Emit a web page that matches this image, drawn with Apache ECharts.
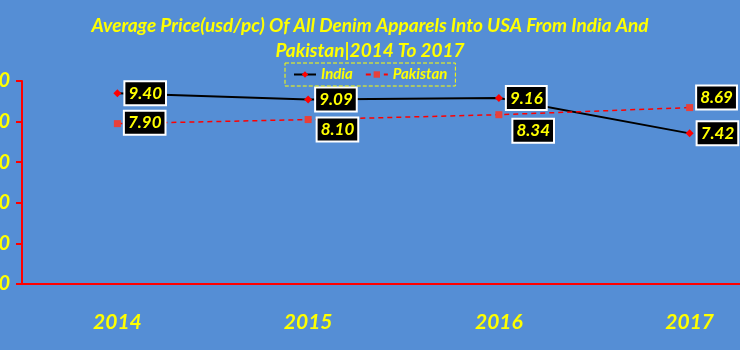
<!DOCTYPE html>
<html><head><meta charset="utf-8">
<script src="https://cdn.jsdelivr.net/npm/echarts@6/dist/echarts.min.js"></script>
<style>html,body{margin:0;padding:0;background:#558ED5;}#c{width:740px;height:350px;}</style>
</head><body><div id="c"></div>
<script>
const categories = ['2014', '2015', '2016', '2017'];
const indiaValues = [9.40, 9.09, 9.16, 7.42];
const pakistanValues = [7.90, 8.10, 8.34, 8.69];
const yTicks = [0, 2, 4, 6, 8, 10];
const titleText = 'Average Price(usd/pc) Of All Denim Apparels Into USA From India And\nPakistan|2014 To 2017';

const yellow = '#FFFF00';
const font = 'Lato';
const labelBase = {
  show: true, position: 'right', color: yellow, fontFamily: font, fontWeight: 'bold', fontStyle: 'italic',
  fontSize: 17, backgroundColor: '#000', borderColor: '#fff', borderWidth: 2, padding: [3, 3, 2, 3],
  formatter: p => p.value.toFixed(2)
};
const pakOffsets = [[0, -1], [2, 10], [7, 16], [0, -10]];
const chart = echarts.init(document.getElementById('c'));
chart.setOption({
  backgroundColor: '#558ED5',
  animation: false,
  title: { text: titleText, left: 'center', top: 8, itemGap: 0,
    textStyle: { color: yellow, fontFamily: font, fontWeight: 'bold', fontStyle: 'italic', fontSize: 19, lineHeight: 25 } },
  legend: { top: 63, left: 285, itemWidth: 22, itemHeight: 8, itemGap: 12,
    borderColor: yellow, borderWidth: 1, borderType: 'dashed', padding: [4, 8],
    textStyle: { color: yellow, fontFamily: font, fontWeight: 'bold', fontStyle: 'italic', fontSize: 15 },
    data: ['India', 'Pakistan'] },
  grid: { left: 22, right: -45, top: 81, bottom: 66, outerBoundsMode: 'none', containLabel: false },
  xAxis: { type: 'category', data: categories, boundaryGap: true,
    axisLine: { lineStyle: { color: '#FF0000', width: 2 } }, axisTick: { show: false },
    axisLabel: { color: yellow, fontFamily: font, fontWeight: 'bold', fontStyle: 'italic', fontSize: 21, margin: 28 } },
  yAxis: { type: 'value', min: yTicks[0], max: yTicks[yTicks.length - 1], interval: 2,
    axisLine: { show: true, lineStyle: { color: '#FF0000', width: 2 } },
    axisTick: { show: true, length: 6, lineStyle: { color: '#FF0000', width: 2 } },
    splitLine: { show: false },
    axisLabel: { color: yellow, fontFamily: font, fontWeight: 'bold', fontStyle: 'italic', fontSize: 20, margin: 12,
      formatter: v => v.toFixed(2) } },
  series: [
    { name: 'India', type: 'line', data: indiaValues, symbol: 'diamond', symbolSize: 8,
      itemStyle: { color: '#FF0000' }, lineStyle: { color: '#000', width: 2 },
      label: Object.assign({}, labelBase, { distance: 4 }) },
    { name: 'Pakistan', type: 'line',
      data: pakistanValues.map((v, i) => ({ value: v, label: { offset: pakOffsets[i] } })),
      symbol: 'rect', symbolSize: 7,
      itemStyle: { color: '#E8403A' }, lineStyle: { color: '#FF0000', width: 1.5, type: [5, 4] },
      label: Object.assign({}, labelBase, { distance: 4 }) }
  ]
});
</script></body></html>
